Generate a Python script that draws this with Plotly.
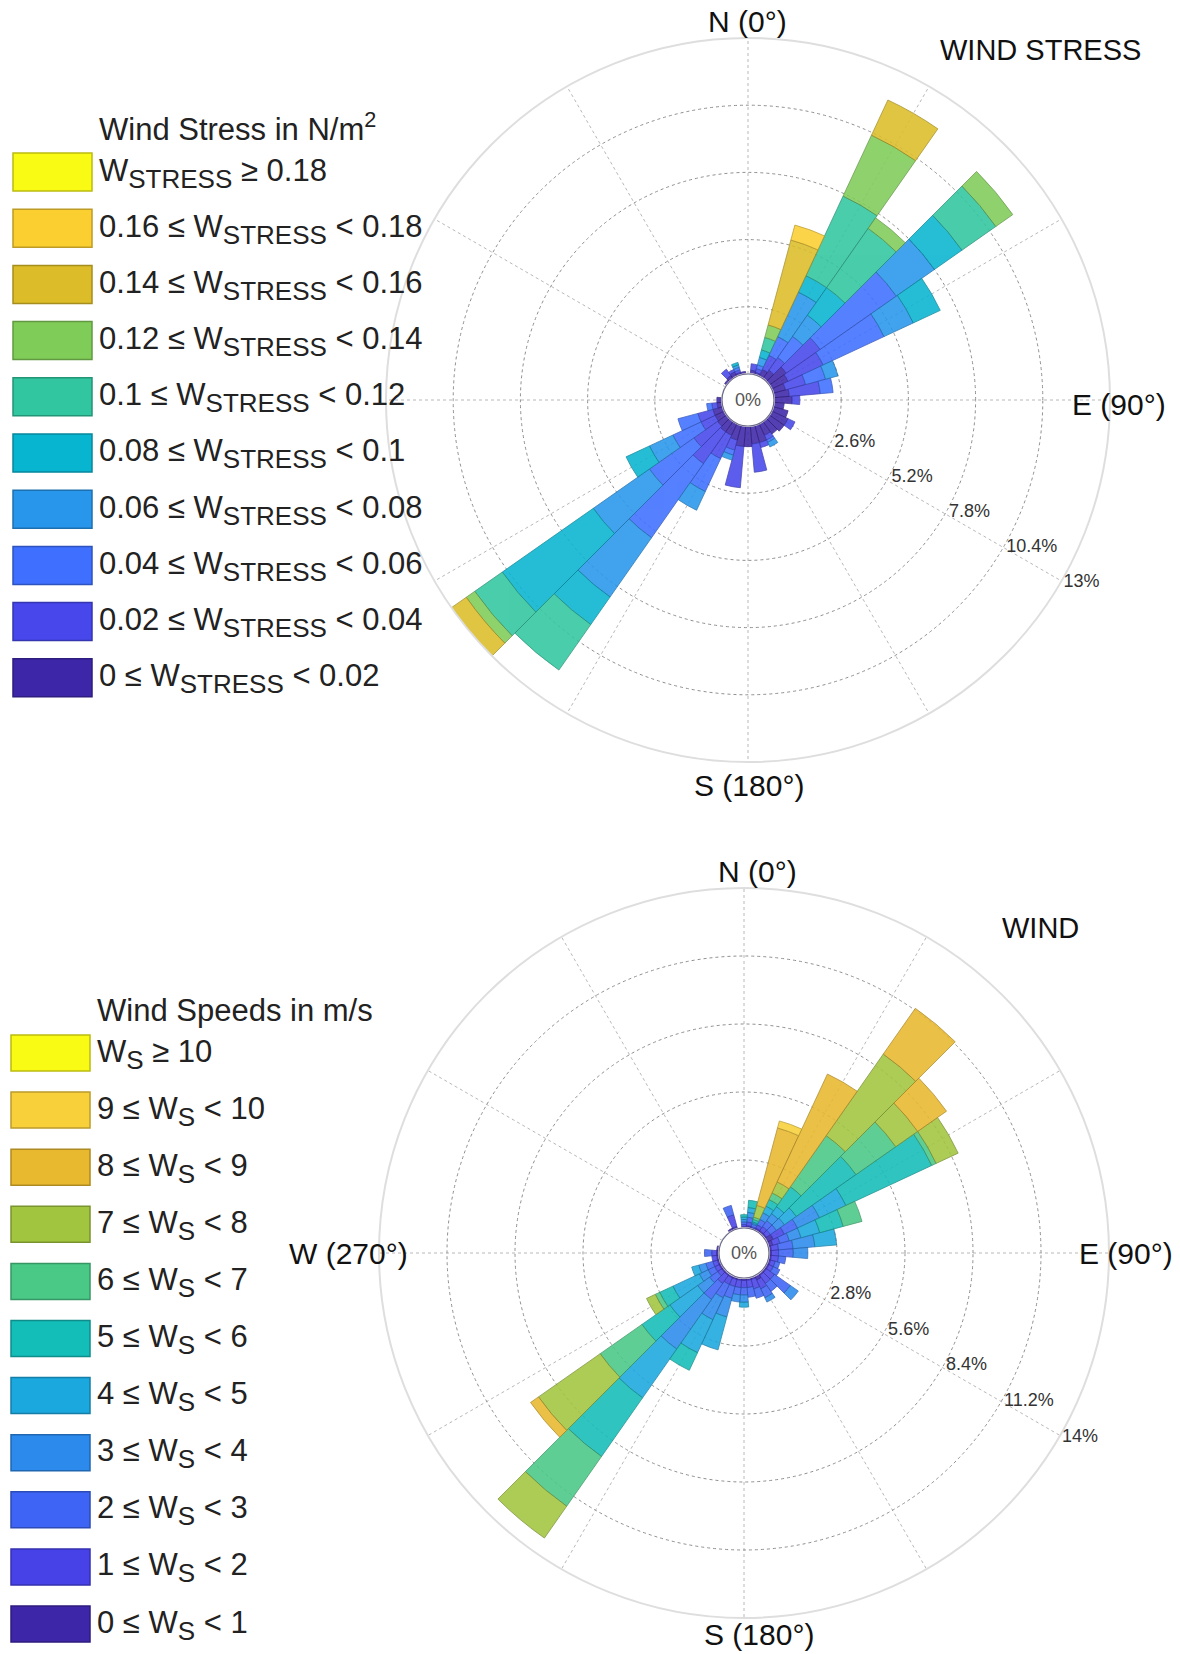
import plotly.graph_objects as go

W, H = 1180, 1654

# ---------------- data ----------------
DIRECTIONS = list(range(0, 360, 10))

# Wind stress chart: frequency (%) per direction for each stress class
stress_000_002 = [0, 0.15, 0.1, 0.3, 0.4, 0.8, 0.7, 0.5, 0.6, 0.7, 0.4, 0.6, 0.7, 0.7, 0.6, 0.5, 0.7, 0.7,
                  0.8, 0.8, 0.6, 0.5, 0.5, 0.43, 0.4, 0.4, 0.2, 0.2, 0, 0, 0, 0.1, 0.15, 0.2, 0.1, 0.1]
stress_002_004 = [0, 0.25, 0.15, 0.6, 0.6, 1.6, 1.5, 0.8, 1.2, 0.3, 0, 0, 0.3, 0, 0, 0.2, 0.2, 1.1,
                  0, 1.6, 0.4, 1.0, 1.5, 1.12, 0.6, 0.6, 0.2, 0, 0, 0, 0, 0, 0.3, 0.1, 0.1, 0]
stress_004_006 = [0, 0, 0.15, 0.8, 1.0, 3.6, 2.6, 0.8, 0.5, 0, 0, 0, 0, 0, 0, 0.1, 0, 0,
                  0, 0, 0.2, 1.4, 3.5, 2.1, 1.2, 0.8, 0.2, 0, 0, 0, 0, 0, 0, 0, 0.1, 0]
stress_006_008 = [0, 0, 0.3, 1.9, 1.0, 1.8, 1.25, 0.5, 0, 0, 0, 0, 0, 0, 0, 0.2, 0, 0,
                  0, 0, 0.2, 0.8, 2.8, 2.65, 1.0, 0, 0, 0, 0, 0, 0, 0, 0, 0, 0.1, 0]
stress_008_010 = [0, 0, 0.3, 0.7, 1.3, 1.3, 1.15, 0, 0, 0, 0, 0, 0, 0, 0, 0, 0, 0,
                  0, 0, 0, 0, 1.3, 4.3, 1.0, 0, 0, 0, 0, 0, 0, 0, 0, 0, 0.1, 0]
stress_010_012 = [0, 0, 0.5, 3.4, 2.8, 1.6, 0, 0, 0, 0, 0, 0, 0, 0, 0, 0, 0, 0,
                  0, 0, 0, 0, 2.15, 1.3, 0, 0, 0, 0, 0, 0, 0, 0, 0, 0, 0, 0]
stress_012_014 = [0, 0, 0.5, 2.6, 0.5, 0.8, 0, 0, 0, 0, 0, 0, 0, 0, 0, 0, 0, 0,
                  0, 0, 0, 0, 0, 0.4, 0, 0, 0, 0, 0, 0, 0, 0, 0, 0, 0, 0]
stress_014_016 = [0, 0, 3.4, 1.5, 0, 0, 0, 0, 0, 0, 0, 0, 0, 0, 0, 0, 0, 0,
                  0, 0, 0, 0, 0, 0.7, 0, 0, 0, 0, 0, 0, 0, 0, 0, 0, 0, 0]
stress_016_018 = [0, 0, 0.6, 0, 0, 0, 0, 0, 0, 0, 0, 0, 0, 0, 0, 0, 0, 0,
                  0, 0, 0, 0, 0, 0, 0, 0, 0, 0, 0, 0, 0, 0, 0, 0, 0, 0]
stress_018_up = [0] * 36

# Wind speed chart: frequency (%) per direction for each speed class
speed_0_1 = [0.05, 0.1, 0.05, 0.1, 0.1, 0.1, 0.3, 0.2, 0.1, 0.1, 0.1, 0.1, 0.1, 0.1, 0.1, 0.2, 0.1, 0.1,
             0.1, 0.1, 0.1, 0.1, 0.1, 0.1, 0.1, 0.1, 0.1, 0.1, 0.1, 0, 0, 0, 0, 0.1, 0.1, 0]
speed_1_2 = [0.1, 0.15, 0.05, 0.15, 0.2, 0.2, 0.5, 0.3, 0.3, 0.3, 0.3, 0.2, 0.2, 0.4, 0.4, 0.4, 0.4, 0.3,
             0.3, 0.3, 0.3, 0.3, 0.4, 0.2, 0.2, 0.2, 0.2, 0.2, 0, 0, 0, 0, 0, 0, 0.5, 0]
speed_2_3 = [0.1, 0.2, 0.1, 0.25, 0.3, 0.3, 0.6, 0.4, 0.6, 0.6, 0.3, 0.2, 0.3, 0.8, 0.4, 0.4, 0.4, 0.4,
             0.3, 0.3, 0.5, 0.6, 0.8, 0.4, 0.3, 0.3, 0, 0.3, 0, 0, 0, 0, 0, 0, 0.4, 0]
speed_3_4 = [0.1, 0.2, 0.05, 0.3, 0.35, 0.4, 1.0, 0.5, 0.9, 0.6, 0, 0, 0, 0.4, 0, 0.2, 0, 0,
             0.3, 0.3, 0.8, 1.0, 2.5, 0.6, 0.4, 0.3, 0, 0, 0, 0, 0, 0, 0, 0, 0, 0]
speed_4_5 = [0.1, 0.2, 0.05, 0.3, 0.35, 0.6, 1.2, 0.8, 0.9, 0, 0, 0, 0, 0, 0, 0, 0, 0,
             0.2, 0, 1.4, 1.5, 2.45, 1.4, 1.2, 0.3, 0, 0, 0, 0, 0, 0, 0, 0, 0, 0]
speed_5_6 = [0.1, 0.3, 0.1, 0.3, 1.0, 3.0, 3.9, 1.0, 0, 0, 0, 0, 0, 0, 0, 0, 0, 0,
             0, 0, 0, 0.8, 2.95, 1.4, 0.6, 0, 0, 0, 0, 0, 0, 0, 0, 0, 0, 0]
speed_6_7 = [0, 0, 0.1, 0.3, 2.57, 2.0, 0.2, 0.8, 0, 0, 0, 0, 0, 0, 0, 0, 0, 0,
             0, 0, 0, 0, 2.5, 2.1, 0.2, 0, 0, 0, 0, 0, 0, 0, 0, 0, 0, 0]
speed_7_8 = [0, 0, 0.5, 0.5, 4.1, 1.1, 1.0, 0, 0, 0, 0, 0, 0, 0, 0, 0, 0, 0,
             0, 0, 0, 0, 1.6, 3.1, 0.4, 0, 0, 0, 0, 0, 0, 0, 0, 0, 0, 0]
speed_8_9 = [0, 0, 3.3, 4.9, 2.3, 1.45, 0, 0, 0, 0, 0, 0, 0, 0, 0, 0, 0, 0,
             0, 0, 0, 0, 0, 0.4, 0, 0, 0, 0, 0, 0, 0, 0, 0, 0, 0, 0]
speed_9_10 = [0, 0, 0.3, 0, 0, 0, 0, 0, 0, 0, 0, 0, 0, 0, 0, 0, 0, 0,
              0, 0, 0, 0, 0, 0, 0, 0, 0, 0, 0, 0, 0, 0, 0, 0, 0, 0]
speed_10_up = [0] * 36

SUB_ST = "<sub><span style='font-size:26px'>STRESS</span></sub>"
SUB_S = "<sub><span style='font-size:26px'>S</span></sub>"
STRESS_LABELS = [
    "0 ≤ W" + SUB_ST + " &lt; 0.02",
    "0.02 ≤ W" + SUB_ST + " &lt; 0.04",
    "0.04 ≤ W" + SUB_ST + " &lt; 0.06",
    "0.06 ≤ W" + SUB_ST + " &lt; 0.08",
    "0.08 ≤ W" + SUB_ST + " &lt; 0.1",
    "0.1 ≤ W" + SUB_ST + " &lt; 0.12",
    "0.12 ≤ W" + SUB_ST + " &lt; 0.14",
    "0.14 ≤ W" + SUB_ST + " &lt; 0.16",
    "0.16 ≤ W" + SUB_ST + " &lt; 0.18",
    "W" + SUB_ST + " ≥ 0.18",
]
SPEED_LABELS = [
    "0 ≤ W" + SUB_S + " &lt; 1",
    "1 ≤ W" + SUB_S + " &lt; 2",
    "2 ≤ W" + SUB_S + " &lt; 3",
    "3 ≤ W" + SUB_S + " &lt; 4",
    "4 ≤ W" + SUB_S + " &lt; 5",
    "5 ≤ W" + SUB_S + " &lt; 6",
    "6 ≤ W" + SUB_S + " &lt; 7",
    "7 ≤ W" + SUB_S + " &lt; 8",
    "8 ≤ W" + SUB_S + " &lt; 9",
    "9 ≤ W" + SUB_S + " &lt; 10",
    "W" + SUB_S + " ≥ 10",
]
STRESS_TICKS = [2.6, 5.2, 7.8, 10.4, 13]
SPEED_TICKS = [2.8, 5.6, 8.4, 11.2, 14]

STRESS_COLORS = ["#3e26a8", "#4747eb", "#3e6fff", "#2796eb", "#08b5d0",
                 "#31c69f", "#80cc59", "#dcbd29", "#fccf30", "#f9fb15"]
SPEED_COLORS = ["#3e26a8", "#4741e8", "#3d64f5", "#2b8aec", "#1ba8df", "#13bdb8",
                "#4ac886", "#a2c53f", "#e8b82e", "#f8d13a", "#f9fb15"]

stress_series = [stress_000_002, stress_002_004, stress_004_006, stress_006_008, stress_008_010,
                 stress_010_012, stress_012_014, stress_014_016, stress_016_018, stress_018_up]
speed_series = [speed_0_1, speed_1_2, speed_2_3, speed_3_4, speed_4_5, speed_5_6,
                speed_6_7, speed_7_8, speed_8_9, speed_9_10, speed_10_up]

FONT = "Liberation Sans, Arial, Helvetica, sans-serif"


def darker(hexc, f=0.72):
    h = hexc.lstrip("#")
    r, g, b = (int(h[i:i + 2], 16) for i in (0, 2, 4))
    return "rgb(%d,%d,%d)" % (r * f, g * f, b * f)


def px(x):
    return x / W


def py(y):
    return 1 - y / H


fig = go.Figure()
for vals, col, lab in zip(stress_series, STRESS_COLORS, STRESS_LABELS):
    fig.add_trace(go.Barpolar(r=vals, theta=DIRECTIONS, width=10, name=lab, subplot="polar",
                              marker=dict(color=col, opacity=0.88, line=dict(color=darker(col), width=0.8)),
                              showlegend=False))
for vals, col, lab in zip(speed_series, SPEED_COLORS, SPEED_LABELS):
    fig.add_trace(go.Barpolar(r=vals, theta=DIRECTIONS, width=10, name=lab, subplot="polar2",
                              marker=dict(color=col, opacity=0.88, line=dict(color=darker(col), width=0.8)),
                              showlegend=False))

# chart geometry (pixels)
TOP_C, TOP_R, TOP_HOLE = (748, 400), 362, 26
BOT_C, BOT_R, BOT_HOLE = (744, 1253), 365, 25
TICK_AXIS_ANGLE = -31.5


def polar_cfg(c, R, hole, ticks):
    cx, cy = c
    return dict(
        domain=dict(x=[px(cx - R), px(cx + R)], y=[py(cy + R), py(cy - R)]),
        hole=hole / R,
        bgcolor="rgba(0,0,0,0)",
        barmode="stack",
        bargap=0,
        radialaxis=dict(range=[0, ticks[-1]], tickvals=ticks,
                        ticktext=["%g%%" % t for t in ticks],
                        angle=TICK_AXIS_ANGLE, tickangle=TICK_AXIS_ANGLE,
                        side="counterclockwise", showline=False, ticks="",
                        gridcolor="#8f8f8f", griddash="dot", gridwidth=1,
                        tickfont=dict(family=FONT, size=18, color="#333")),
        angularaxis=dict(rotation=90, direction="clockwise", tickmode="array",
                         tickvals=list(range(0, 360, 30)), showticklabels=False, ticks="",
                         gridcolor="#b8b8b8", griddash="dot", gridwidth=1,
                         showline=True, linecolor="#dedede", linewidth=2),
    )


annotations = []
shapes = []


def label(text, x, y, size=30, xanchor="center", color="#111"):
    annotations.append(dict(text=text, x=px(x), y=py(y), xref="paper", yref="paper",
                            xanchor=xanchor, yanchor="middle", showarrow=False,
                            font=dict(family=FONT, size=size, color=color)))


# cardinal labels / titles
label("N (0°)", 747, 21)
label("E (90°)", 1119, 404)
label("S (180°)", 749, 786)
label("WIND STRESS", 1040, 50, size=29)
label("N (0°)", 757, 871)
label("W (270°)", 348, 1253)
label("E (90°)", 1126, 1253)
label("S (180°)", 759, 1634)
label("WIND", 1040, 928, size=29)

# centre "0%" markers
for (cx, cy), hole in ((TOP_C, TOP_HOLE), (BOT_C, BOT_HOLE)):
    shapes.append(dict(type="circle", xref="paper", yref="paper",
                       x0=px(cx - hole), x1=px(cx + hole), y0=py(cy + hole), y1=py(cy - hole),
                       line=dict(color="#6a6a8a", width=1.2), fillcolor="white"))
    label("0%", cx, cy, size=18, color="#555")


# custom legends
def legend(title, title_y, labels, colors, x0, x1, yc0, step, hgt, tx):
    label(title, tx, title_y, size=31, xanchor="left", color="#222")
    n = len(labels)
    for k in range(n):
        idx = n - 1 - k
        yc = yc0 + k * step
        shapes.append(dict(type="rect", xref="paper", yref="paper",
                           x0=px(x0), x1=px(x1), y0=py(yc + hgt / 2), y1=py(yc - hgt / 2),
                           fillcolor=colors[idx], line=dict(color=darker(colors[idx], 0.75), width=1.5)))
        label(labels[idx], tx, yc + 1, size=31, xanchor="left", color="#222")


legend("Wind Stress in N/m<sup>2</sup>", 127, STRESS_LABELS, STRESS_COLORS, 13, 92, 172, 56.2, 38, 97)
legend("Wind Speeds in m/s", 1010, SPEED_LABELS, SPEED_COLORS, 11, 90, 1053, 57.1, 36, 95)

fig.update_layout(
    width=W, height=H, margin=dict(l=0, r=0, t=0, b=0),
    paper_bgcolor="white", plot_bgcolor="white",
    polar=polar_cfg(TOP_C, TOP_R, TOP_HOLE, STRESS_TICKS),
    polar2=polar_cfg(BOT_C, BOT_R, BOT_HOLE, SPEED_TICKS),
    annotations=annotations, shapes=shapes, showlegend=False,
    font=dict(family=FONT),
)

fig.write_html("out.html")
